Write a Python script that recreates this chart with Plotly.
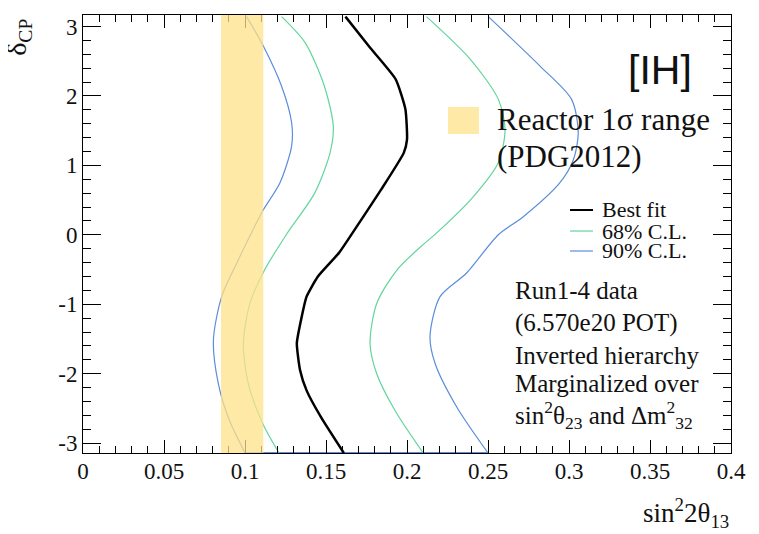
import plotly.graph_objects as go

# ---------------- data ----------------
best_delta = [-3.1416, -2.63, -2.24, -1.95, -1.56, -1.18, -0.89, -0.60, -0.26, 0.05, 0.65, 1.18, 1.37, 1.81, 2.24, 2.70, 3.1416]
best_s2 = [0.161, 0.147, 0.138, 0.134, 0.132, 0.135, 0.138, 0.145, 0.158, 0.167, 0.184, 0.198, 0.200, 0.199, 0.193, 0.177, 0.162]

cl68_left_delta = [-3.1416, -2.72, -2.14, -1.57, -0.99, -0.51, 0.02, 0.60, 1.18, 1.56, 2.14, 2.77, 3.1416]
cl68_left_s2 = [0.121, 0.111, 0.102, 0.099, 0.103, 0.112, 0.126, 0.143, 0.1525, 0.1545, 0.149, 0.137, 0.1226]

cl68_right_delta = [-3.1416, -2.53, -2.00, -1.57, -0.99, -0.50, -0.12, 0.02, 0.55, 1.04, 1.52, 1.95, 2.53, 3.1416]
cl68_right_s2 = [0.210, 0.1926, 0.1813, 0.1772, 0.1813, 0.194, 0.211, 0.218, 0.241, 0.2564, 0.2605, 0.2564, 0.239, 0.212]

cl90_left_delta = [-3.1416, -2.63, -2.14, -1.52, -0.89, -0.36, 0.03, 0.36, 0.75, 1.28, 1.61, 2.14, 2.72, 3.1416]
cl90_left_s2 = [0.100, 0.0897, 0.0835, 0.0805, 0.0856, 0.0959, 0.104, 0.1113, 0.1216, 0.1288, 0.1288, 0.1226, 0.1113, 0.101]

cl90_right_delta = [-3.1416, -2.48, -1.85, -1.47, -0.89, -0.55, 0.0, 0.26, 0.75, 1.08, 1.47, 1.95, 2.43, 3.1416]
cl90_right_s2 = [0.250, 0.2307, 0.2173, 0.2142, 0.2204, 0.2368, 0.2564, 0.2718, 0.2944, 0.3027, 0.3057, 0.3016, 0.2821, 0.2502]

cl90_bottom_s2 = [0.100, 0.250]
cl90_bottom_delta = [-3.1416, -3.1416]

reactor_range = [0.0852, 0.1113]

x_range = [0.0, 0.4]
y_range = [-3.1416, 3.165]
x_tickvals = [0, 0.05, 0.1, 0.15, 0.2, 0.25, 0.3, 0.35, 0.4]
x_ticktext = ["0", "0.05", "0.1", "0.15", "0.2", "0.25", "0.3", "0.35", "0.4"]
y_tickvals = [-3, -2, -1, 0, 1, 2, 3]
y_ticktext = ["-3", "-2", "-1", "0", "1", "2", "3"]

GREEN = "#62d59c"
BLUE = "#5b8ddb"
BAND = "#ffe288"
SERIF = "Liberation Serif, Times New Roman, serif"

fig = go.Figure()

def add_line(xs, ys, color, width, smooth=0.8):
    fig.add_trace(go.Scatter(x=xs, y=ys, mode="lines",
                             line=dict(color=color, width=width, shape="spline", smoothing=smooth),
                             showlegend=False, hoverinfo="skip", cliponaxis=False))

add_line(cl90_bottom_s2, cl90_bottom_delta, BLUE, 2)
add_line(cl90_left_s2, cl90_left_delta, BLUE, 1.2)
add_line(cl90_right_s2, cl90_right_delta, BLUE, 1.2)
add_line(cl68_left_s2, cl68_left_delta, GREEN, 1.2)
add_line(cl68_right_s2, cl68_right_delta, GREEN, 1.2)
add_line(best_s2, best_delta, "black", 2.5, smooth=0.5)

# reactor band
fig.add_shape(type="rect", xref="x", yref="paper", x0=reactor_range[0], x1=reactor_range[1],
              y0=0, y1=1, fillcolor=BAND, opacity=0.75, line=dict(width=0), layer="above")

# legend: reactor square
fig.add_shape(type="rect", xref="paper", yref="paper", x0=0.5633, x1=0.6111, y0=0.7283, y1=0.7900,
              fillcolor=BAND, opacity=0.75, line=dict(width=0))
# legend line samples
for yy, col, w in [(0.5548, "black", 2), (0.5068, GREEN, 1.2), (0.4612, BLUE, 1.2)]:
    fig.add_shape(type="line", xref="paper", yref="paper", x0=0.7515, x1=0.787, y0=yy, y1=yy,
                  line=dict(color=col, width=w))

ann = []
def text(x, y, s, size, family=SERIF, xanchor="left", yanchor="middle", angle=0, color="#111"):
    ann.append(dict(x=x, y=y, xref="paper", yref="paper", text=s, showarrow=False,
                    xanchor=xanchor, yanchor=yanchor, textangle=angle,
                    font=dict(family=family, size=size, color=color)))

text(0.8904, 0.8744, "[IH]", 41, family="Liberation Sans, Arial, sans-serif", xanchor="center")
text(0.6358, 0.7603, "Reactor 1σ range", 31)
text(0.6358, 0.6758, "(PDG2012)", 31)
text(0.7978, 0.5548, "Best fit", 22)
text(0.7978, 0.5068, "68% C.L.", 22)
text(0.7978, 0.4612, "90% C.L.", 22)
text(0.6636, 0.3721, "Run1-4 data", 25)
text(0.6636, 0.2968, "(6.570e20 POT)", 25)
text(0.6636, 0.2237, "Inverted hierarchy", 25)
text(0.6636, 0.1598, "Marginalized over", 25)
text(0.6636, 0.0868, "sin<sup>2</sup>θ<sub>23</sub> and Δm<sup>2</sup><sub>32</sub>", 25)
# axis titles
text(1.0, -0.137, "sin<sup>2</sup>2θ<sub>13</sub>", 27, xanchor="right")
text(-0.0985, 0.995, "δ<sub>CP</sub>", 28, xanchor="center", yanchor="top", angle=-90)

axis_common = dict(showgrid=False, zeroline=False, showline=True, linecolor="black", linewidth=1,
                   mirror="ticks", ticks="inside", tickcolor="black",
                   tickfont=dict(family=SERIF, size=23, color="#111"))

fig.update_layout(
    width=751, height=526,
    margin=dict(l=75, r=28, t=7, b=81),
    plot_bgcolor="white", paper_bgcolor="white",
    annotations=ann,
    xaxis=dict(range=x_range, tickvals=x_tickvals, ticktext=x_ticktext, ticklen=13,
               ticklabelstandoff=-3,
               minor=dict(dtick=0.01, ticklen=7, ticks="inside", tickcolor="black"),
               **axis_common),
    yaxis=dict(range=y_range, tickvals=y_tickvals, ticktext=y_ticktext, ticklen=18,
               minor=dict(dtick=0.2, tick0=0, ticklen=8, ticks="inside", tickcolor="black"),
               **axis_common),
)

fig.write_html("out.html")
